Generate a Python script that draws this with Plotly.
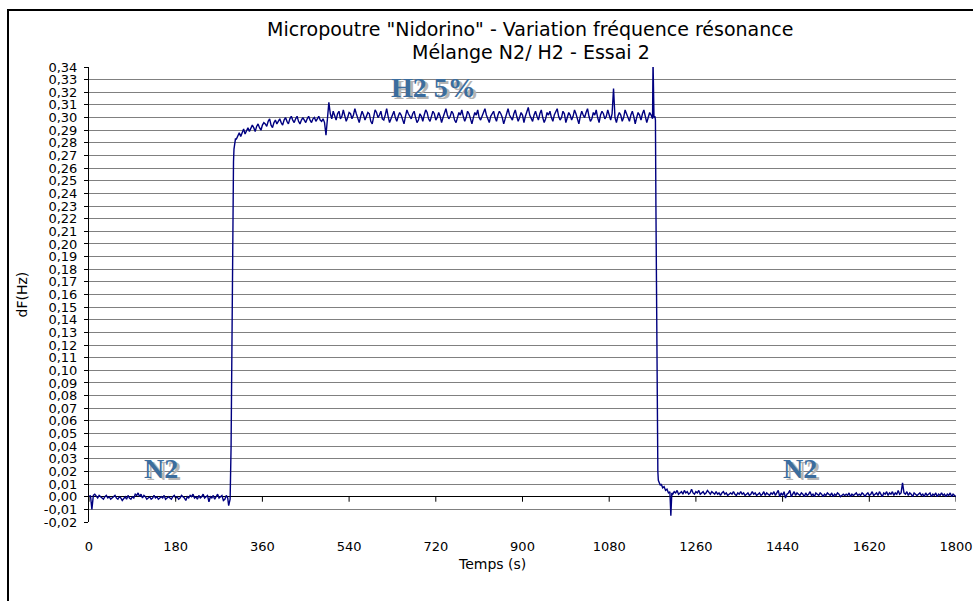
import numpy as np
import plotly.graph_objects as go

# ---------------- data (dF in mHz) ----------------
# Segment A: N2 before the switch, t = 0 .. 288 s
seg_a_t = (0, 288)
seg_a = [0, 1, -10, 1, 2, 0, -1, 1, 0, -1,
         -2, 0, 1, -1, 0, -2, -1, 0, 1, -1,
         -2, 0, -1, -3, -1, 0, -2, 1, -1, -2,
         0, -1, 2, 1, 3, 0, 2, -1, 1, 0,
         -2, -1, 0, -2, -1, 1, -1, 0, -2, -1,
         0, -1, 1, -2, -1, 0, -1, -2, 0, 1,
         -1, 0, -2, -1, 1, 0, -1, -3, 0, -1,
         1, 0, 2, -1, 0, -2, 1, -1, 0, 2,
         -1, 0, 1, -4, 0, -1, 1, -2, 0, 2,
         -1, 0, 1, -3, -2, 1, -1]

# Segment B: rise when H2 5% is introduced
seg_b_t = [290, 293, 295, 296, 297, 298, 299, 300, 301, 302, 304]
seg_b = [-7, -2, 40, 100, 170, 220, 250, 265, 275, 280, 283]

# Segment C: H2 5% plateau, t = 306 .. 1170 s
seg_c_t = (306, 1170)
seg_c = [283, 286, 288, 285, 289, 291, 287, 290, 292, 289,
         291, 294, 292, 289, 293, 295, 292, 290, 294, 296,
         295, 293, 297, 299, 294, 292, 296, 298, 295, 297,
         299, 296, 294, 298, 300, 297, 295, 299, 301, 298,
         296, 299, 301, 297, 295, 298, 300, 298, 296, 299,
         301, 298, 296, 299, 300, 297, 299, 301, 298, 297,
         299, 296, 286, 298, 312, 303, 299, 305, 301, 298,
         303, 305, 299, 301, 306, 302, 297, 300, 304, 303,
         299, 302, 307, 303, 300, 296, 301, 305, 302, 298,
         301, 304, 303, 297, 295, 300, 306, 304, 300, 302,
         305, 299, 298, 302, 307, 301, 296, 299, 303, 305,
         300, 297, 301, 304, 302, 298, 295, 301, 306, 303,
         301, 299, 303, 305, 300, 296, 298, 303, 301, 297,
         302, 306, 304, 299, 297, 301, 305, 303, 298, 300,
         304, 301, 296, 300, 303, 307, 302, 299, 301, 305,
         303, 298, 296, 301, 304, 302, 306, 301, 297, 300,
         305, 303, 299, 295, 300, 304, 302, 306, 300, 298,
         301, 304, 307, 302, 298, 296, 301, 303, 305, 300,
         297, 302, 305, 303, 300, 295, 299, 304, 307, 302,
         300, 298, 303, 306, 301, 297, 300, 304, 302, 296,
         301, 305, 308, 302, 299, 297, 302, 305, 301, 298,
         303, 306, 300, 296, 299, 304, 302, 305, 300, 297,
         302, 304, 307, 301, 298, 300, 305, 303, 296, 300,
         304, 302, 298, 301, 306, 303, 299, 295, 301, 305,
         302, 300, 304, 307, 301, 297, 299, 304, 302, 306,
         300, 296, 302, 305, 303, 299, 301, 306, 302, 298,
         303, 323, 300, 296, 301, 304, 302, 297, 300, 306,
         303, 299, 297, 302, 305, 301, 295, 300, 304, 302,
         298, 303, 306, 301, 296, 300, 304, 302, 299]

# Segment D: spike and fall back to N2
seg_d_t = [1171, 1173, 1175, 1176, 1177, 1178, 1179, 1180, 1181, 1182,
           1184, 1186, 1188, 1191, 1194, 1197, 1200, 1203, 1206, 1208, 1210]
seg_d = [345, 300, 301, 298, 230, 150, 80, 40, 20, 13,
         11, 9, 10, 7, 8, 5, 6, 3, 4, -15, 3]

# Segment E: N2 after the switch, t = 1212 .. 1800 s
seg_e_t = (1212, 1800)
seg_e = [2, 4, 3, 5, 2, 3, 4, 2, 5, 3,
         4, 2, 3, 6, 3, 2, 4, 3, 5, 2,
         3, 4, 2, 3, 5, 3, 2, 4, 3, 2,
         4, 2, 3, 1, 3, 4, 2, 3, 1, 2,
         3, 2, 4, 2, 1, 3, 2, 4, 2, 3,
         1, 2, 3, 1, 2, 4, 2, 3, 1, 2,
         3, 1, 2, 4, 1, 3, 2, 1, 3, 2,
         4, 1, 3, 5, 0, 3, 1, 4, -1, 2,
         3, 5, 0, 2, 4, 1, 3, 2, 1, 3,
         2, 0, 3, 1, 2, 4, 1, 2, 0, 3,
         2, 1, 3, 2, 0, 2, 1, 3, 2, 1,
         3, 0, 2, 1, 3, 2, 0, 1, 2, 1,
         2, 1, 3, 0, 2, 1, 2, 3, 1, 2,
         1, 3, 2, 0, 2, 3, 1, 2, 4, 1,
         2, 3, 1, 4, 2, 0, 3, 2, 4, 1,
         3, 2, 4, 1, 3, 2, 5, 2, 3, 11,
         3, 2, 4, 1, 3, 2, 0, 3, 2, 1,
         2, 3, 1, 2, 0, 3, 1, 2, 3, 0,
         2, 1, 3, 0, 2, 1, 3, 1, 2, 0,
         2, 1, 3, 0, 2, 1, 0]

x_ticks = [0, 180, 360, 540, 720, 900, 1080, 1260, 1440, 1620, 1800]
y_ticks = [round(-0.02 + 0.01 * i, 2) for i in range(37)]
y_ticktext = [("%.2f" % v).replace(".", ",") for v in y_ticks]

labels = [("N2", 150, 0.022), ("H2 5%", 716, 0.324), ("N2", 1476, 0.022)]

# ---------------- assemble ----------------
t = np.concatenate([
    np.linspace(seg_a_t[0], seg_a_t[1], len(seg_a)),
    np.array(seg_b_t, float),
    np.linspace(seg_c_t[0], seg_c_t[1], len(seg_c)),
    np.array(seg_d_t, float),
    np.linspace(seg_e_t[0], seg_e_t[1], len(seg_e)),
])
df = np.concatenate([seg_a, seg_b, seg_c, seg_d, seg_e]).astype(float) / 1000.0

FONT = "DejaVu Sans, Arial, sans-serif"
SERIF = "Liberation Serif, Times New Roman, serif"

W, H = 973, 601
L, T = 89, 67
PW, PH = 867, 455
R, B = W - L - PW, H - T - PH

fig = go.Figure()
fig.add_trace(go.Scatter(x=t, y=df, mode="lines",
                         line=dict(color="#000080", width=1.4),
                         hoverinfo="skip", showlegend=False))

shapes = []
# outer chart border (cropped at right and bottom like the reference)
shapes.append(dict(type="rect", xref="paper", yref="paper",
                   x0=(8 - L) / PW, x1=1.2, y0=-0.4, y1=(PH + T - 10) / PH,
                   line=dict(color="black", width=2), fillcolor="rgba(0,0,0,0)",
                   layer="below"))
# tick marks on the zero line
for xv in x_ticks:
    shapes.append(dict(type="line", xref="x", yref="y", ysizemode="pixel",
                       yanchor=0, x0=xv, x1=xv, y0=0, y1=-5,
                       line=dict(color="black", width=1)))

annotations = [
    dict(text='Micropoutre "Nidorino" - Variation fréquence résonance',
         xref="paper", yref="paper", x=(530 - 89) / PW, y=(522 - 29) / PH,
         xanchor="center", yanchor="middle",
         showarrow=False, font=dict(family=FONT, size=19, color="black")),
    dict(text="Mélange N2/ H2 - Essai 2",
         xref="paper", yref="paper", x=(531 - 89) / PW, y=(522 - 52) / PH,
         xanchor="center", yanchor="middle",
         showarrow=False, font=dict(family=FONT, size=19, color="black")),
    dict(text="Temps (s)", xref="paper", yref="paper",
         x=(492 - 89) / PW, y=(522 - 564) / PH, xanchor="center", yanchor="middle",
         showarrow=False, font=dict(family=FONT, size=14, color="black")),
    dict(text="dF(Hz)", xref="paper", yref="paper",
         x=(21 - 89) / PW, y=0.5, xanchor="center", yanchor="middle",
         showarrow=False, textangle=-90,
         font=dict(family=FONT, size=14, color="black")),
]
for txt, xv, yv in labels:
    annotations.append(dict(text="<b>%s</b>" % txt, x=xv, y=yv, xref="x", yref="y",
                            showarrow=False, xshift=3, yshift=-2,
                            font=dict(family=SERIF, size=28, color="#b4b4b4")))
    annotations.append(dict(text="<b>%s</b>" % txt, x=xv, y=yv, xref="x", yref="y",
                            showarrow=False,
                            font=dict(family=SERIF, size=28, color="#3b6d9e")))

fig.update_layout(
    width=W, height=H,
    margin=dict(l=L, r=R, t=T, b=B, pad=0, autoexpand=False),
    paper_bgcolor="white", plot_bgcolor="white",
    font=dict(family=FONT, size=13, color="black"),
    shapes=shapes, annotations=annotations,
    xaxis=dict(range=[0, 1800], tickvals=x_ticks, ticktext=[str(v) for v in x_ticks],
               automargin=False,
               showgrid=False, zeroline=False, showline=False,
               ticks="outside", ticklen=12, tickcolor="rgba(0,0,0,0)",
               ticklabeloverflow="allow",
               tickfont=dict(family=FONT, size=13, color="black")),
    yaxis=dict(range=[-0.02, 0.34], tickvals=y_ticks, ticktext=y_ticktext,
               automargin=False,
               showgrid=True, gridcolor="#808080", gridwidth=1,
               zeroline=True, zerolinecolor="black", zerolinewidth=1,
               showline=True, linecolor="black", linewidth=1,
               ticks="outside", ticklen=4, tickcolor="black",
               ticklabelstandoff=4,
               tickfont=dict(family=FONT, size=13, color="black")),
)

# remove the default 8px page margin so the figure sits at the window origin
fig.write_html("out.html", config={"displayModeBar": False},
               post_script="document.body.style.margin='0';document.body.style.overflow='hidden';")
